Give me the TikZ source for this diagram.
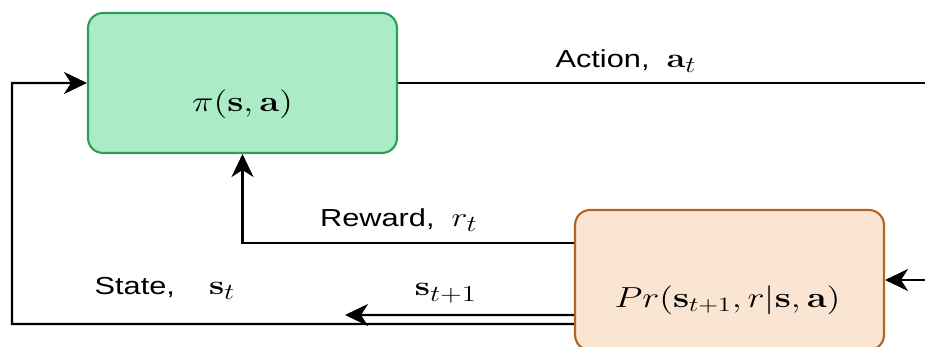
\RequirePackage{fix-cm}
\documentclass[tikz,border=0pt]{standalone}
\usepackage[no-math]{fontspec}
\usepackage{graphicx}
\newfontfamily\labelfont{Liberation Sans}
\usetikzlibrary{arrows.meta,calc}

\definecolor{polfill}{RGB}{171,235,198}
\definecolor{poldraw}{RGB}{40,160,90}
\definecolor{envfill}{RGB}{250,229,211}
\definecolor{envdraw}{RGB}{180,101,30}

% label math a little bigger than the text, with large subscripts
\DeclareMathSizes{14}{15.5}{13}{10}

% text is set a bit wide
\newcommand{\wide}[1]{\scalebox{1.25}[1]{#1}}

\begin{document}
\begin{tikzpicture}[x=0.02cm,y=-0.02cm,
    block/.style={rounded corners=0.3cm,line width=1.2pt,minimum width=6.18cm,minimum height=2.8cm},
    wire/.style={line width=1.2pt},
    flow/.style={wire,-{Stealth[length=0.46cm,width=0.44cm,inset=0.14cm]}},
    lbl/.style={font=\labelfont\fontsize{14}{17}\selectfont,anchor=base,inner sep=0pt},
    boxtxt/.style={font=\fontsize{16.5}{20}\selectfont}]
    \useasboundingbox (0,0) rectangle (925,347);

    % agent and environment
    \node[block,fill=polfill,draw=poldraw] (pol) at (242.5,83) {};
    \node[block,fill=envfill,draw=envdraw] (env) at (729.5,280) {};
    \node[boxtxt] (poltxt) at ($(pol.center)+(0,21)$) {\wide{$\pi(\mathbf{s},\mathbf{a})$}};
    \node[boxtxt] (envtxt) at ($(env.center)+(-2,20)$) {\wide{$Pr(\mathbf{s}_{t+1},r|\mathbf{s},\mathbf{a})$}};

    \coordinate (actend) at (925,83);
    \coordinate (envfeed) at (925,280);
    \coordinate (loop) at (12,324);
    \coordinate (nextend) at (345,315);

    \draw[wire] (pol.east) -- (actend);
    \draw[flow] (envfeed) -- (env.east);
    \draw[flow] ([yshift=0.74cm]env.west) -| (pol.south);
    \draw[flow] ([yshift=-0.88cm]env.west) -- (loop) |- (pol.west);
    \draw[flow] ([yshift=-0.7cm]env.west) -- (nextend);

    \node[lbl] (acttxt) at (626,68) {\wide{Action,~~$\mathbf{a}_t$}};
    \node[lbl] (rewtxt) at (399,227) {\wide{Reward,~~$r_t$}};
    \node[lbl] (statetxt) at (165,295) {\wide{State,~~~~$\mathbf{s}_t$}};
    \node[lbl] (nexttxt) at (446,296) {\wide{$\mathbf{s}_{t+1}$}};
\end{tikzpicture}
\end{document}
